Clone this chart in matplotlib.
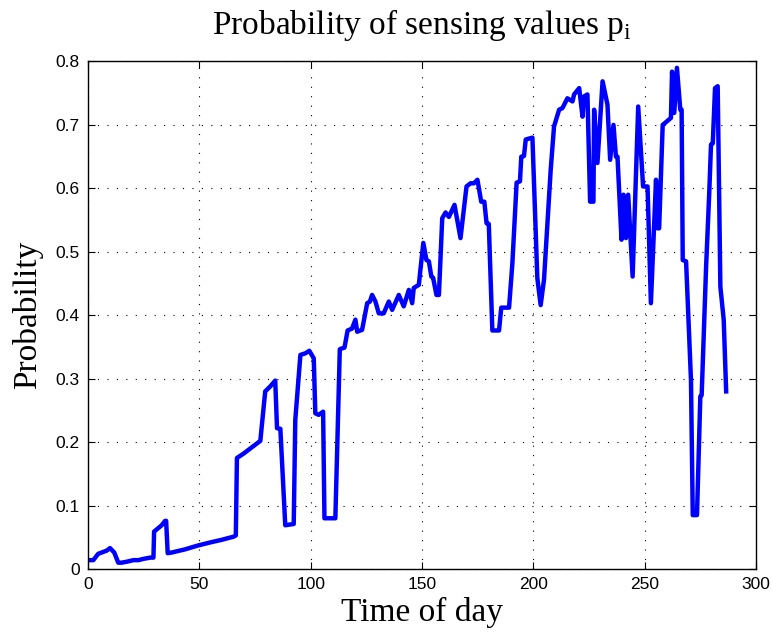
import matplotlib
matplotlib.use('Agg')
import matplotlib.pyplot as plt

plt.rcParams['mathtext.fontset'] = 'custom'
plt.rcParams['mathtext.rm'] = 'Liberation Serif'

# values (time index, probability)
time_of_day = [0, 2.4, 4.6, 6.9, 8.4, 9.9, 11.8, 13.6, 15.1, 17.4, 20.4, 22.6, 24.9,
               27.9, 29.4, 29.7, 30.9, 33.1, 34.6, 35.1, 35.8, 37.6, 43.6, 49.3, 55,
               60, 65.4, 66.4, 66.9, 69.9, 77.4, 79.6, 81.9, 84.1, 84.9, 86.4, 88.6,
               92.4, 93.1, 95.4, 97.6, 99.4, 101.4, 102.1, 103.6, 105.6, 106.2, 111.1,
               113.1, 115.2, 116.6, 118.6, 120.1, 120.9, 123.1, 125.4, 126.6, 127.6,
               129.1, 130.6, 132.8, 135.1, 136.6, 139.6, 141.8, 144.1, 145.6, 146.3,
               148.6, 149.3, 150.6, 152, 153.1, 154.2, 155, 156.5, 157.6, 159.1, 160.6,
               162.1, 164.6, 167.3, 170, 171.8, 173.3, 174.9, 176.6, 178, 179, 180,
               181.6, 184.6, 185.6, 189.1, 190.6, 192.5, 194, 194.6, 195.8, 196.6,
               199.6, 201.8, 203.3, 204.8, 207.8, 209.3, 211.6, 213.1, 215.3, 217.6,
               218.3, 220.6, 222.1, 222.8, 224.3, 225.5, 227, 227.3, 228.8, 231.1,
               233.3, 234.5, 236, 237.1, 237.8, 239.6, 240.5, 241.6, 242.6, 244.6,
               247.1, 249.3, 251.3, 252.8, 255.1, 255.8, 256.5, 258.1, 261.8, 262.3,
               263.3, 264.5, 266, 266.6, 267.1, 268.6, 270.8, 271.6, 273.5, 275, 275.6,
               277.6, 279, 279.8, 280.6, 281.6, 282.8, 284, 285.5, 286.6]
probability = [0.014, 0.014, 0.024, 0.027, 0.029, 0.033, 0.026, 0.010, 0.010, 0.0115,
               0.014, 0.014, 0.016, 0.018, 0.018, 0.059, 0.0625, 0.069, 0.0757, 0.076,
               0.025, 0.026, 0.031, 0.037, 0.042, 0.046, 0.051, 0.053, 0.175, 0.182,
               0.202, 0.280, 0.288, 0.297, 0.222, 0.221, 0.069, 0.071, 0.235, 0.3375,
               0.340, 0.344, 0.332, 0.2455, 0.243, 0.248, 0.080, 0.080, 0.3465, 0.349,
               0.376, 0.379, 0.393, 0.374, 0.377, 0.419, 0.4215, 0.432, 0.4216, 0.403,
               0.403, 0.4216, 0.4085, 0.432, 0.414, 0.440, 0.419, 0.443, 0.448, 0.472,
               0.514, 0.487, 0.485, 0.461, 0.459, 0.432, 0.432, 0.553, 0.562, 0.555,
               0.574, 0.5216, 0.603, 0.608, 0.608, 0.6135, 0.579, 0.579, 0.545, 0.544,
               0.376, 0.376, 0.412, 0.412, 0.482, 0.609, 0.611, 0.650, 0.651, 0.677,
               0.680, 0.4585, 0.416, 0.456, 0.629, 0.6976, 0.724, 0.7266, 0.742, 0.737,
               0.748, 0.758, 0.713, 0.745, 0.748, 0.579, 0.579, 0.724, 0.640, 0.7687,
               0.732, 0.645, 0.700, 0.650, 0.650, 0.519, 0.590, 0.5216, 0.590, 0.461,
               0.729, 0.603, 0.603, 0.419, 0.6136, 0.537, 0.537, 0.700, 0.711, 0.784,
               0.719, 0.790, 0.724, 0.724, 0.487, 0.485, 0.298, 0.085, 0.085, 0.272,
               0.274, 0.477, 0.5925, 0.669, 0.671, 0.758, 0.761, 0.445, 0.393, 0.280]

x_ticks = [0, 50, 100, 150, 200, 250, 300]
y_ticks = [0, 0.1, 0.2, 0.3, 0.4, 0.5, 0.6, 0.7, 0.8]
y_tick_labels = ['0', '0.1', '0.2', '0.3', '0.4', '0.5', '0.6', '0.7', '0.8']

fig = plt.figure(figsize=(7.73, 6.39), dpi=100)
ax = fig.add_axes([0.1138, 0.1095, 0.8642, 0.7943])

ax.plot(time_of_day, probability, color=(0, 0, 1), linewidth=3.2, solid_joinstyle='round')

ax.set_xlim(0, 300)
ax.set_ylim(0, 0.8)
ax.set_xticks(x_ticks)
ax.set_yticks(y_ticks)
ax.set_yticklabels(y_tick_labels)
ax.grid(True, color='black', linestyle=(0, (1, 7.5)), linewidth=0.8)
ax.tick_params(direction='in', top=True, right=True, length=5, width=0.8,
               labelsize=12.5, pad=6)
for lbl in ax.get_xticklabels() + ax.get_yticklabels():
    lbl.set_fontfamily('Liberation Sans')
for sp in ax.spines.values():
    sp.set_linewidth(1.0)

ax.set_xlabel('Time of day', fontsize=24, fontfamily='Liberation Serif')
ax.set_ylabel('Probability', fontsize=24, fontfamily='Liberation Serif')
ax.xaxis.set_label_coords(0.5, -0.085)
ax.yaxis.set_label_coords(-0.091, 0.5)
ax.xaxis.label.set_va('center')
ax.yaxis.label.set_va('center')

ax.text(0.5, 1.072, r'Probability of sensing values p$_\mathrm{i}$', transform=ax.transAxes,
        ha='center', va='center', fontsize=24, fontfamily='Liberation Serif')

fig.savefig('out.png', dpi=100)
